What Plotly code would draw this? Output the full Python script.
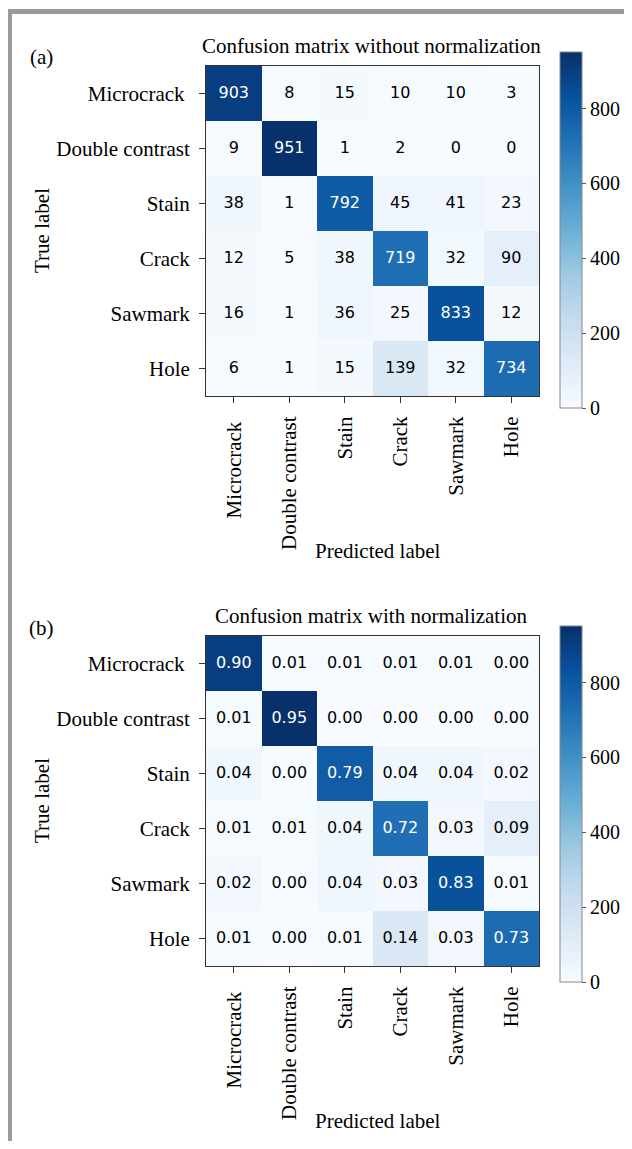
import plotly.graph_objects as go

# ---------------- data ----------------
classes = ["Microcrack", "Double contrast", "Stain", "Crack", "Sawmark", "Hole"]
y_tick_labels = ["Microcrack ", "Double contrast", "Stain", "Crack", "Sawmark", "Hole"]
x_tick_labels = ["Microcrack ", "Double contrast", "Stain", "Crack", "Sawmark", "Hole"]

counts = [
    [903, 8, 15, 10, 10, 3],
    [9, 951, 1, 2, 0, 0],
    [38, 1, 792, 45, 41, 23],
    [12, 5, 38, 719, 32, 90],
    [16, 1, 36, 25, 833, 12],
    [6, 1, 15, 139, 32, 734],
]
normalized = [
    [0.90, 0.01, 0.01, 0.01, 0.01, 0.00],
    [0.01, 0.95, 0.00, 0.00, 0.00, 0.00],
    [0.04, 0.00, 0.79, 0.04, 0.04, 0.02],
    [0.01, 0.01, 0.04, 0.72, 0.03, 0.09],
    [0.02, 0.00, 0.04, 0.03, 0.83, 0.01],
    [0.01, 0.00, 0.01, 0.14, 0.03, 0.73],
]
cbar_tickvals = [0, 200, 400, 600, 800]
cbar_ticktext = ["0", "200", "400", "600", "800"]
count_max = 951
norm_scale = 1000  # normalized values shown on the count colour bar

titles = ["Confusion matrix without normalization", "Confusion matrix with normalization"]
panel_tags = ["(a)", "(b)"]

# ---------------- layout helpers (page pixel -> paper) ----------------
OFF = 8                      # default body margin of the written page
W, H = 632 - OFF, 1149 - 2 * OFF
def px(x):
    return (x - OFF) / W
def py(y):
    return 1 - (y - OFF) / H

SERIF = "Liberation Serif"
CELLFONT = "DejaVu Sans"

fig = go.Figure()

panels = [
    dict(z=counts, text=[[str(v) for v in r] for r in counts], zmax=count_max,
         tickvals=cbar_tickvals, top=66, bottom=396, cb_bottom=408, cb_top=52,
         xa="x", ya="y", title_y=46, tag_y=57, ylab_y=231, xlab_y=551),
    dict(z=normalized, text=[["%.2f" % v for v in r] for r in normalized],
         zmax=count_max / norm_scale,
         tickvals=[v / norm_scale for v in cbar_tickvals], top=636, bottom=966,
         cb_bottom=982, cb_top=626,
         xa="x2", ya="y2", title_y=616, tag_y=628, ylab_y=801, xlab_y=1121),
]

for i, p in enumerate(panels):
    fig.add_trace(go.Heatmap(
        z=p["z"], x=classes, y=classes, colorscale="Blues", zmin=0, zmax=p["zmax"],
        xaxis=p["xa"], yaxis=p["ya"], hoverinfo="skip",
        colorbar=dict(
            x=px(560), xanchor="left", xpad=0, ypad=0,
            y=py(p["cb_bottom"]), yanchor="bottom",
            len=p["cb_bottom"] - p["cb_top"], lenmode="pixels",
            thickness=22, thicknessmode="pixels",
            outlinecolor="#888", outlinewidth=1,
            tickvals=p["tickvals"], ticktext=cbar_ticktext,
            ticks="outside", ticklen=4, tickcolor="#555",
            tickfont=dict(family=SERIF, size=20, color="black"),
        ),
    ))
    thr = max(max(r) for r in p["z"]) / 2
    xs, ys, ts, cs = [], [], [], []
    for r, row in enumerate(p["z"]):
        for c, v in enumerate(row):
            xs.append(classes[c]); ys.append(classes[r])
            ts.append(p["text"][r][c])
            cs.append("white" if v > thr else "black")
    fig.add_trace(go.Scatter(
        x=xs, y=ys, text=ts, mode="text", xaxis=p["xa"], yaxis=p["ya"],
        textfont=dict(family=CELLFONT, size=16, color=cs),
        hoverinfo="skip", showlegend=False,
    ))

axis_common = dict(
    type="category", showline=True, mirror=True, linecolor="#333", linewidth=1,
    ticks="outside", ticklen=6, tickcolor="#333", showgrid=False, zeroline=False,
    ticklabelstandoff=5,
    tickfont=dict(family=SERIF, size=21, color="black"),
)

fig.update_layout(
    width=W, height=H, margin=dict(l=0, r=0, t=0, b=0),
    paper_bgcolor="white", plot_bgcolor="white", showlegend=False,
    xaxis=dict(axis_common, domain=[px(206), px(539)], anchor="y",
               tickangle=-90, tickvals=classes, ticktext=x_tick_labels),
    yaxis=dict(axis_common, domain=[py(panels[0]["bottom"]), py(panels[0]["top"])], anchor="x",
               autorange="reversed", tickvals=classes, ticktext=y_tick_labels),
    xaxis2=dict(axis_common, domain=[px(206), px(539)], anchor="y2",
                tickangle=-90, tickvals=classes, ticktext=x_tick_labels),
    yaxis2=dict(axis_common, domain=[py(panels[1]["bottom"]), py(panels[1]["top"])], anchor="x2",
                autorange="reversed", tickvals=classes, ticktext=y_tick_labels),
)

annotations = []
for i, p in enumerate(panels):
    annotations.append(dict(text=titles[i], x=px(371), y=py(p["title_y"]), xref="paper", yref="paper",
                            showarrow=False, font=dict(family=SERIF, size=21, color="black"),
                            xanchor="center", yanchor="middle"))
    annotations.append(dict(text=panel_tags[i], x=px(41), y=py(p["tag_y"]), xref="paper", yref="paper",
                            showarrow=False, font=dict(family=SERIF, size=21, color="black"),
                            xanchor="center", yanchor="middle"))
    annotations.append(dict(text="True label", x=px(42), y=py(p["ylab_y"]), xref="paper", yref="paper",
                            showarrow=False, textangle=-90, font=dict(family=SERIF, size=21, color="black"),
                            xanchor="center", yanchor="middle"))
    annotations.append(dict(text="Predicted label", x=px(378), y=py(p["xlab_y"]), xref="paper", yref="paper",
                            showarrow=False, font=dict(family=SERIF, size=21, color="black"),
                            xanchor="center", yanchor="middle"))
fig.update_layout(annotations=annotations)

# grey frame (left and top edges)
fig.add_shape(type="rect", xref="paper", yref="paper", x0=0, x1=px(12), y0=0, y1=py(9),
              fillcolor="#9a9a9a", line_width=0)
fig.add_shape(type="rect", xref="paper", yref="paper", x0=0, x1=1, y0=py(14), y1=py(9),
              fillcolor="#9a9a9a", line_width=0)

fig.write_html("out.html")
